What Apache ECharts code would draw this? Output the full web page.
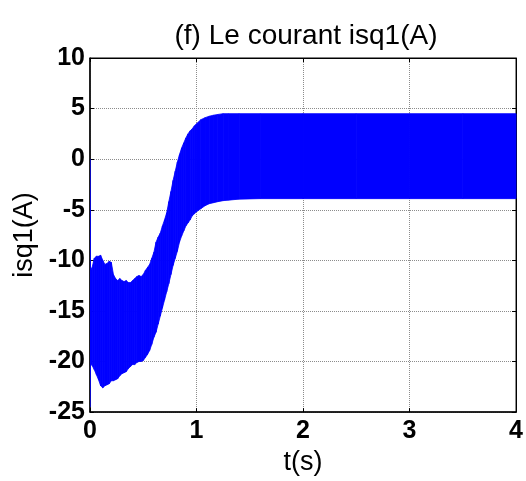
<!DOCTYPE html>
<html>
<head>
<meta charset="utf-8">
<script src="https://cdn.jsdelivr.net/npm/echarts@6/dist/echarts.min.js"></script>
<style>
html,body{margin:0;padding:0;background:#fff;}
#chart{width:526px;height:481px;}
</style>
</head>
<body>
<div id="chart"></div>
<script>
// temps (s) et enveloppe du courant isq1
var t = [0, 0.005, 0.02, 0.04, 0.06, 0.08, 0.10, 0.12, 0.14, 0.16, 0.18, 0.20, 0.22, 0.24, 0.26, 0.28, 0.30,
  0.32, 0.34, 0.36, 0.38, 0.40, 0.42, 0.44, 0.46, 0.48, 0.50, 0.52, 0.54, 0.56, 0.58, 0.60, 0.62, 0.64,
  0.66, 0.68, 0.70, 0.72, 0.74, 0.76, 0.78, 0.80, 0.82, 0.84, 0.86, 0.88, 0.90, 0.92, 0.94, 0.96, 0.98,
  1.00, 1.04, 1.08, 1.12, 1.16, 1.20, 1.25, 1.30, 1.40, 1.60, 2.0, 2.5, 3.0, 3.5, 4.0];
var upper = [0, -11, -10.7, -9.8, -9.6, -9.6, -9.5, -10.0, -10.4, -10.3, -10.1, -10.2, -11.4, -11.8, -12.0, -11.8, -12.0,
  -12.1, -12.0, -12.2, -12.2, -12.0, -11.8, -11.6, -11.5, -11.6, -11.4, -11.0, -10.7, -10.4, -9.8, -9.2, -8.2, -7.7,
  -7.3, -6.6, -6.0, -5.3, -4.2, -3.2, -2.1, -1.2, -0.3, 0.45, 1.1, 1.6, 2.1, 2.5, 2.8, 3.0, 3.3,
  3.5, 3.9, 4.1, 4.25, 4.35, 4.42, 4.5, 4.5, 4.5, 4.5, 4.5, 4.5, 4.5, 4.5, 4.5];
var lower = [-24.5, -20.2, -20.4, -20.8, -21.3, -21.8, -22.4, -22.6, -22.4, -22.3, -22.2, -21.9, -21.9, -21.8, -21.7, -21.4, -21.2,
  -21.1, -21.0, -20.7, -20.5, -20.3, -20.3, -20.1, -20.0, -20.0, -19.9, -19.6, -19.3, -18.9, -18.3, -17.6, -17.1, -16.3,
  -15.5, -14.7, -13.9, -13.1, -12.3, -11.4, -10.5, -9.8, -9.1, -8.2, -7.6, -7.1, -6.6, -6.3, -6.0, -5.6, -5.4,
  -5.2, -4.9, -4.6, -4.4, -4.3, -4.2, -4.1, -4.05, -3.95, -3.9, -3.9, -3.9, -3.9, -3.9, -3.9];

var xTicks = [0, 1, 2, 3, 4];
var yTicks = [-25, -20, -15, -10, -5, 0, 5, 10];

var font = 'Liberation Sans, Arial, sans-serif';
var blue = '#0000ff';

var bandData = t.map(function(x, i){ return [x, upper[i], lower[i]]; });

// bande bleue entre les enveloppes, un quadrilatere par intervalle
var renderBand = function(params, api){
  var i = params.dataIndex;
  if (i >= t.length - 1) return null;
  var pts = [
    api.coord([t[i], upper[i]]),
    api.coord([t[i + 1], upper[i + 1]]),
    api.coord([t[i + 1], lower[i + 1]]),
    api.coord([t[i], lower[i]])
  ];
  return {
    type: 'polygon',
    shape: {points: pts},
    style: {fill: blue, stroke: blue, lineWidth: 0.8}
  };
};

var chart = echarts.init(document.getElementById('chart'), null, {renderer: 'canvas'});

var tickIn = {show: true, inside: true, length: 4, lineStyle: {color: '#000', width: 1}};
var grille = {show: true, lineStyle: {color: '#8c8c8c', type: 'dotted', width: 1}};

var option = {
  animation: false,
  backgroundColor: '#fff',
  title: {
    text: '(f) Le courant isq1(A)',
    left: 301, top: 17, textAlign: 'center',
    textStyle: {fontFamily: font, fontSize: 28, fontWeight: 'normal', color: '#000'}
  },
  grid: {left: 90, right: 9, top: 58, bottom: 61, show: true, borderColor: '#000', borderWidth: 1, backgroundColor: '#fff'},
  xAxis: [{
    type: 'value', min: xTicks[0], max: xTicks[xTicks.length - 1], interval: 1,
    name: 't(s)', nameLocation: 'middle', nameGap: 30,
    nameTextStyle: {fontFamily: font, fontSize: 27, color: '#000'},
    axisLine: {show: true, onZero: false, lineStyle: {color: '#000', width: 1.5}},
    axisTick: tickIn, splitLine: grille,
    axisLabel: {fontFamily: font, fontSize: 25, fontWeight: 'bold', color: '#000', margin: 7}
  }, {
    type: 'value', position: 'top', min: 0, max: 4, interval: 1,
    axisLine: {show: true, onZero: false, lineStyle: {color: '#000'}},
    axisTick: tickIn, axisLabel: {show: false}, splitLine: {show: false}
  }],
  yAxis: [{
    type: 'value', min: yTicks[0], max: yTicks[yTicks.length - 1], interval: 5,
    name: 'isq1(A)', nameLocation: 'middle', nameGap: 48,
    nameTextStyle: {fontFamily: font, fontSize: 27, color: '#000'},
    axisLine: {show: true, onZero: false, lineStyle: {color: '#000', width: 1.5}},
    axisTick: tickIn, splitLine: grille,
    axisLabel: {fontFamily: font, fontSize: 25, fontWeight: 'bold', color: '#000', margin: 5}
  }, {
    type: 'value', position: 'right', min: -25, max: 10, interval: 5,
    axisLine: {show: true, onZero: false, lineStyle: {color: '#000'}},
    axisTick: tickIn, axisLabel: {show: false}, splitLine: {show: false}
  }],
  series: [{
    type: 'custom', name: 'isq1',
    data: bandData,
    encode: {x: 0, y: [1, 2]},
    renderItem: renderBand,
    clip: true
  }]
};

chart.setOption(option);
</script>
</body>
</html>
